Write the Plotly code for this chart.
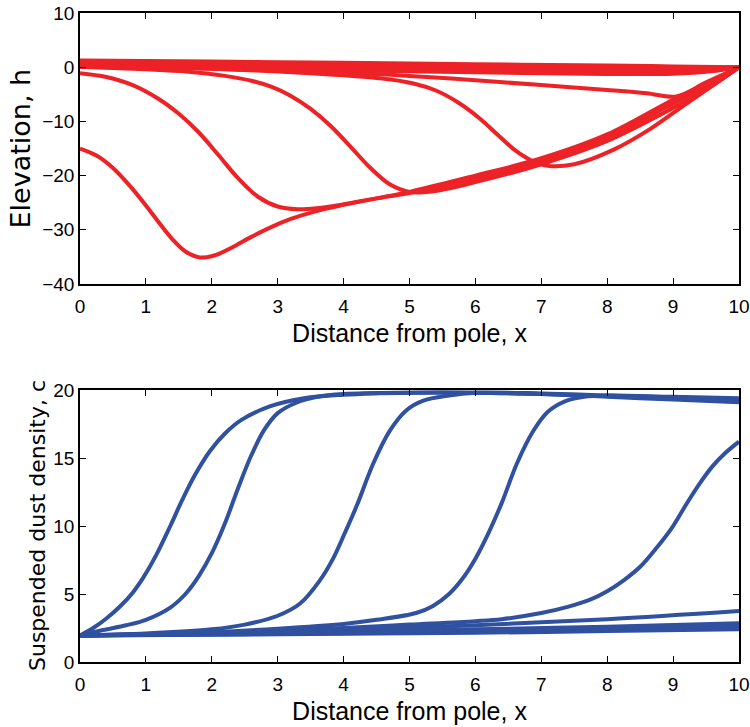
import plotly.graph_objects as go
from plotly.subplots import make_subplots

# ---------------- Top panel: elevation h ----------------
band1_x = [0, 2, 4, 6, 8, 9, 10]
band1_h = [1.25, 1.05, 0.8, 0.55, 0.3, 0.15, 0.0]
band2_x = [0, 2, 4, 6, 8, 9, 10]
band2_h = [0.95, 0.7, 0.4, 0.1, -0.25, -0.3, 0.0]
band3_x = [0, 2, 4, 6, 8, 9, 10]
band3_h = [0.65, 0.4, 0.05, -0.35, -0.7, -0.7, 0.0]
band4_x = [0, 2, 4, 6, 8, 9, 9.6, 10]
band4_h = [0.35, 0.1, -0.3, -0.75, -1.05, -1.0, -0.6, 0.0]
band5_x = [0, 2, 4, 6, 8, 9, 9.6, 10]
band5_h = [0.05, -0.15, -0.55, -0.95, -1.25, -1.2, -0.7, 0.0]

c1_x = [0, 0.25, 0.5, 0.75, 1.0, 1.2, 1.4, 1.6, 1.82, 2.05, 2.3, 2.6, 2.9, 3.2, 3.6, 4.0, 4.5, 5.0, 6.0, 7.0, 8.0, 9.0, 9.5, 10]
c1_h = [-15.0, -16.3, -18.6, -21.8, -25.5, -28.7, -31.7, -34.0, -35.1, -34.7, -33.3, -31.3, -29.5, -28.0, -26.5, -25.4, -24.2, -23.0, -20.0, -16.8, -12.4, -6.0, -3.1, 0.0]

c2_x = [0, 0.4, 0.8, 1.2, 1.5, 1.8, 2.1, 2.4, 2.7, 3.0, 3.3, 3.6, 4.0, 4.5, 5.0, 6.0, 7.0, 8.0, 9.0, 9.5, 10]
c2_h = [-1.1, -1.8, -3.3, -5.9, -8.6, -12.0, -16.2, -20.5, -23.9, -25.7, -26.2, -26.0, -25.3, -24.2, -23.2, -20.6, -17.4, -13.0, -6.7, -3.5, 0.0]

c3_x = [0, 1.0, 1.6, 2.2, 2.6, 2.9, 3.2, 3.5, 3.8, 4.1, 4.4, 4.7, 5.0, 5.3, 6.0, 7.0, 8.0, 9.0, 9.5, 10]
c3_h = [0.1, -0.4, -0.8, -1.6, -2.5, -3.6, -5.3, -7.7, -10.8, -14.6, -18.5, -21.6, -23.0, -23.0, -21.2, -17.9, -13.6, -7.5, -4.1, 0.0]

c4_x = [0, 2.0, 3.0, 4.0, 4.55, 5.06, 5.4, 5.75, 6.07, 6.35, 6.6, 6.85, 7.1, 7.5, 8.1, 8.6, 9.1, 9.6, 10]
c4_h = [0.3, -0.3, -0.8, -1.5, -2.05, -3.0, -4.3, -6.6, -9.5, -12.6, -15.3, -17.2, -18.2, -17.9, -15.2, -11.8, -7.6, -3.4, 0.0]

c5_x = [0, 2, 4, 5, 6, 7, 8, 8.6, 9.05, 9.5, 10]
c5_h = [0.3, -0.3, -1.0, -1.6, -2.4, -3.3, -4.2, -4.8, -5.4, -2.8, 0.0]

top_x = [band1_x, band2_x, band3_x, band4_x, band5_x, c1_x, c2_x, c3_x, c4_x, c5_x]
top_y = [band1_h, band2_h, band3_h, band4_h, band5_h, c1_h, c2_h, c3_h, c4_h, c5_h]

# ---------------- Bottom panel: dust density c ----------------
low_x = [0, 2, 4, 6, 8, 10]
low1_c = [1.95, 2.0, 2.07, 2.15, 2.27, 2.4]
low2_c = [1.95, 2.02, 2.12, 2.25, 2.4, 2.55]
low3_c = [1.95, 2.05, 2.17, 2.33, 2.5, 2.7]
low4_c = [1.95, 2.07, 2.22, 2.4, 2.6, 2.85]
low5_c = [1.95, 2.1, 2.35, 2.7, 3.15, 3.75]

d1_x = [0, 2, 4, 5, 6, 6.4, 7.0, 7.4, 7.75, 8.0, 8.25, 8.5, 8.75, 9.0, 9.2, 9.4, 9.6, 9.8, 10]
d1_c = [1.95, 2.15, 2.5, 2.75, 3.0, 3.15, 3.6, 4.05, 4.6, 5.2, 6.0, 7.0, 8.4, 10.0, 11.6, 13.1, 14.4, 15.4, 16.2]

d2_x = [0, 2, 3, 4, 4.5, 5.1, 5.35, 5.6, 5.8, 6.0, 6.2, 6.4, 6.63, 6.88, 7.1, 7.35, 7.65, 8.0, 9.0, 10]
d2_c = [1.95, 2.2, 2.45, 2.8, 3.1, 3.6, 4.1, 5.0, 6.1, 7.6, 9.5, 11.7, 14.6, 17.0, 18.4, 19.15, 19.5, 19.6, 19.5, 19.4]

d3_x = [0, 1.0, 2.0, 2.5, 3.0, 3.34, 3.64, 3.84, 4.02, 4.2, 4.45, 4.7, 4.95, 5.2, 5.6, 6.0, 7.0, 8.0, 9.0, 10]
d3_c = [1.95, 2.1, 2.4, 2.75, 3.4, 4.3, 6.0, 7.6, 9.5, 11.5, 14.6, 17.0, 18.5, 19.2, 19.6, 19.8, 19.75, 19.6, 19.45, 19.3]

d4_x = [0, 0.35, 0.7, 1.0, 1.37, 1.6, 1.8, 2.0, 2.2, 2.4, 2.6, 2.8, 3.0, 3.3, 3.6, 4.0, 5.0, 6.0, 7.0, 8.0, 9.0, 10]
d4_c = [1.95, 2.35, 2.7, 3.1, 4.0, 5.0, 6.3, 8.0, 10.2, 12.8, 15.2, 17.1, 18.3, 19.1, 19.5, 19.7, 19.8, 19.8, 19.7, 19.55, 19.35, 19.2]

d5_x = [0, 0.2, 0.4, 0.61, 0.8, 0.96, 1.15, 1.37, 1.55, 1.75, 1.97, 2.2, 2.45, 2.88, 3.4, 4.0, 5.0, 6.0, 7.0, 8.0, 9.0, 10]
d5_c = [1.95, 2.5, 3.2, 4.1, 5.1, 6.2, 7.8, 10.0, 11.9, 13.8, 15.5, 16.8, 17.8, 18.8, 19.4, 19.65, 19.8, 19.8, 19.7, 19.5, 19.3, 19.1]

bot_x = [low_x, low_x, low_x, low_x, low_x, d1_x, d2_x, d3_x, d4_x, d5_x]
bot_y = [low1_c, low2_c, low3_c, low4_c, low5_c, d1_c, d2_c, d3_c, d4_c, d5_c]

x_ticks = [0, 1, 2, 3, 4, 5, 6, 7, 8, 9, 10]
h_ticks = [10, 0, -10, -20, -30, -40]
c_ticks = [0, 5, 10, 15, 20]

RED = "#ED2227"
BLUE = "#3050A0"

TOP_DOMAIN = [0.5824, 1.0]
BOT_DOMAIN = [0.0, 0.4191]

fig = make_subplots(rows=2, cols=1)
for xs, ys in zip(top_x, top_y):
    fig.add_trace(go.Scatter(x=xs, y=ys, mode="lines",
                             line=dict(color=RED, width=4, shape="spline", smoothing=1.0)),
                  row=1, col=1)
for xs, ys in zip(bot_x, bot_y):
    fig.add_trace(go.Scatter(x=xs, y=ys, mode="lines",
                             line=dict(color=BLUE, width=4, shape="spline", smoothing=1.0)),
                  row=2, col=1)

tick_font = dict(family="Liberation Sans, Arial", size=19, color="black")
title_font_x = dict(family="Liberation Sans, Arial", size=25, color="black")

axis_common = dict(showgrid=False, zeroline=False, showline=True, linecolor="black",
                   linewidth=1.5, mirror="ticks", ticks="inside", ticklen=6,
                   tickwidth=1, tickcolor="black", tickfont=tick_font,
                   automargin=False)

fig.update_xaxes(range=[0, 10], tickvals=x_ticks, ticklabelstandoff=4, **axis_common)
fig.update_xaxes(title=dict(text="Distance from pole, x", font=title_font_x, standoff=9), row=1, col=1)
fig.update_xaxes(title=dict(text="Distance from pole, x", font=title_font_x, standoff=9), row=2, col=1)
fig.update_yaxes(range=[-40, 10], tickvals=h_ticks, row=1, col=1, **axis_common)
fig.update_yaxes(range=[0, 20], tickvals=c_ticks, row=2, col=1, **axis_common)

# y-axis titles as rotated text placed beside each panel
fig.add_annotation(text="Elevation, h", textangle=-90, showarrow=False,
                   xref="paper", yref="paper", x=0, y=sum(TOP_DOMAIN) / 2,
                   xanchor="center", yanchor="middle", xshift=-59,
                   font=dict(family="DejaVu Sans", size=27, color="black"))
fig.add_annotation(text="Suspended dust density, c", textangle=-90, showarrow=False,
                   xref="paper", yref="paper", x=0, y=sum(BOT_DOMAIN) / 2,
                   xanchor="center", yanchor="middle", xshift=-43,
                   font=dict(family="DejaVu Sans", size=22, color="black"))

fig.update_layout(
    width=750, height=727,
    margin=dict(l=80, r=11, t=13, b=65),
    showlegend=False,
    plot_bgcolor="white", paper_bgcolor="white",
    xaxis=dict(domain=[0, 1]), xaxis2=dict(domain=[0, 1]),
    yaxis=dict(domain=TOP_DOMAIN), yaxis2=dict(domain=BOT_DOMAIN),
)

fig.write_html("out.html",
               config={"displayModeBar": False},
               post_script="document.body.style.margin='0px';document.body.style.overflow='hidden';")
